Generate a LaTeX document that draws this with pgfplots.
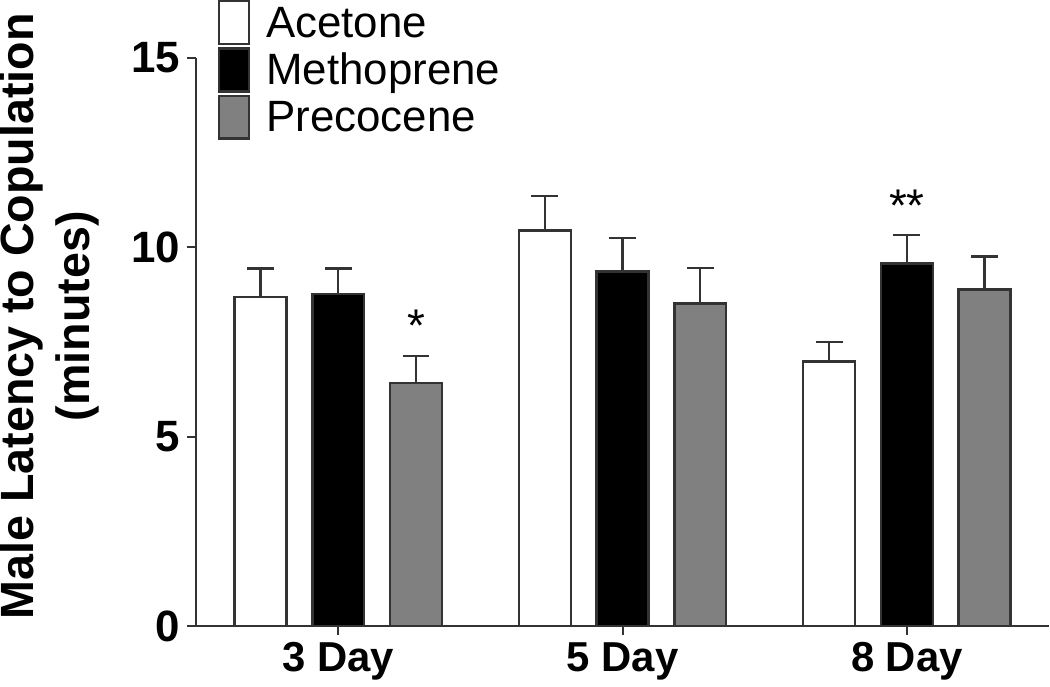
\documentclass[border=0pt]{standalone}
\usepackage{fontspec}
\setmainfont{Liberation Sans}
\usepackage{pgfplots}
\pgfplotsset{compat=1.18}
\definecolor{edge}{HTML}{333333}
\definecolor{pgray}{HTML}{808080}
\begin{document}
\begin{tikzpicture}
\begin{axis}[
  scale only axis, width=428pt, height=285.25pt,
  xmin=0.5, xmax=3.5, ymin=0, ymax=15,
  axis x line*=bottom, axis y line*=left,
  axis line style={edge, line width=1pt, -},
  every tick/.style={edge, line width=1pt},
  tick align=outside, major tick length=4.5pt,
  ytick={0,5,10,15}, xtick={1,2,3}, xticklabels={3 Day,5 Day,8 Day},
  /pgf/number format/assume math mode=true,
  yticklabel style={font=\bfseries\fontsize{22}{24}\selectfont},
  xticklabel style={font=\bfseries\fontsize{21}{24}\selectfont},
  ylabel={Male Latency to Copulation\\(minutes)},
  every axis y label/.style={at={([xshift=-73.5pt,yshift=12.9pt]axis description cs:0,0.5)}, rotate=90, anchor=center,
     inner sep=0pt, font=\bfseries\fontsize{23.4}{28}\selectfont, align=center},
  ybar=13pt, bar width=26pt,
  legend image code/.code={\draw[#1, line width=1.2pt] (0pt,-10.05pt) rectangle (15pt,11.45pt);},
  legend style={at={(rel axis cs:0,1)}, anchor=north west, xshift=11pt, yshift=29pt,
    draw=none, fill=none, inner sep=0pt, outer sep=0pt, row sep=0.4pt,
    font=\fontsize{22}{24}\selectfont,
    nodes={inner sep=0pt, text height=18pt, text depth=4.55pt},
    /tikz/every odd column/.append style={column sep=8pt}},
  legend cell align=left,
  error bars/y dir=plus, error bars/y explicit,
  error bars/error bar style={edge, line width=1.2pt},
  error bars/error mark options={edge, line width=1.2pt, mark size=6.75pt, rotate=90},
]
\addplot[draw=edge, line width=1.2pt, fill=white] coordinates {
  (1,8.68) +- (0,0.76)
  (2,10.44) +- (0,0.91)
  (3,6.99) +- (0,0.51)
};
\addlegendentry{Acetone}
\addplot[draw=edge, line width=1.2pt, fill=black] coordinates {
  (1,8.76) +- (0,0.68)
  (2,9.36) +- (0,0.88)
  (3,9.57) +- (0,0.75)
};
\addlegendentry{Methoprene}
\addplot[draw=edge, line width=1.2pt, fill=pgray] coordinates {
  (1,6.42) +- (0,0.71)
  (2,8.52) +- (0,0.94)
  (3,8.89) +- (0,0.87)
};
\addlegendentry{Precocene}
\node[anchor=base, font=\fontsize{23}{24}\selectfont, inner sep=0pt] at ([xshift=39pt]axis cs:1,7.51) {*};
\node[anchor=base, font=\fontsize{23}{24}\selectfont, inner sep=0pt] at (axis cs:3,10.67) {**};
\end{axis}
\end{tikzpicture}
\end{document}
